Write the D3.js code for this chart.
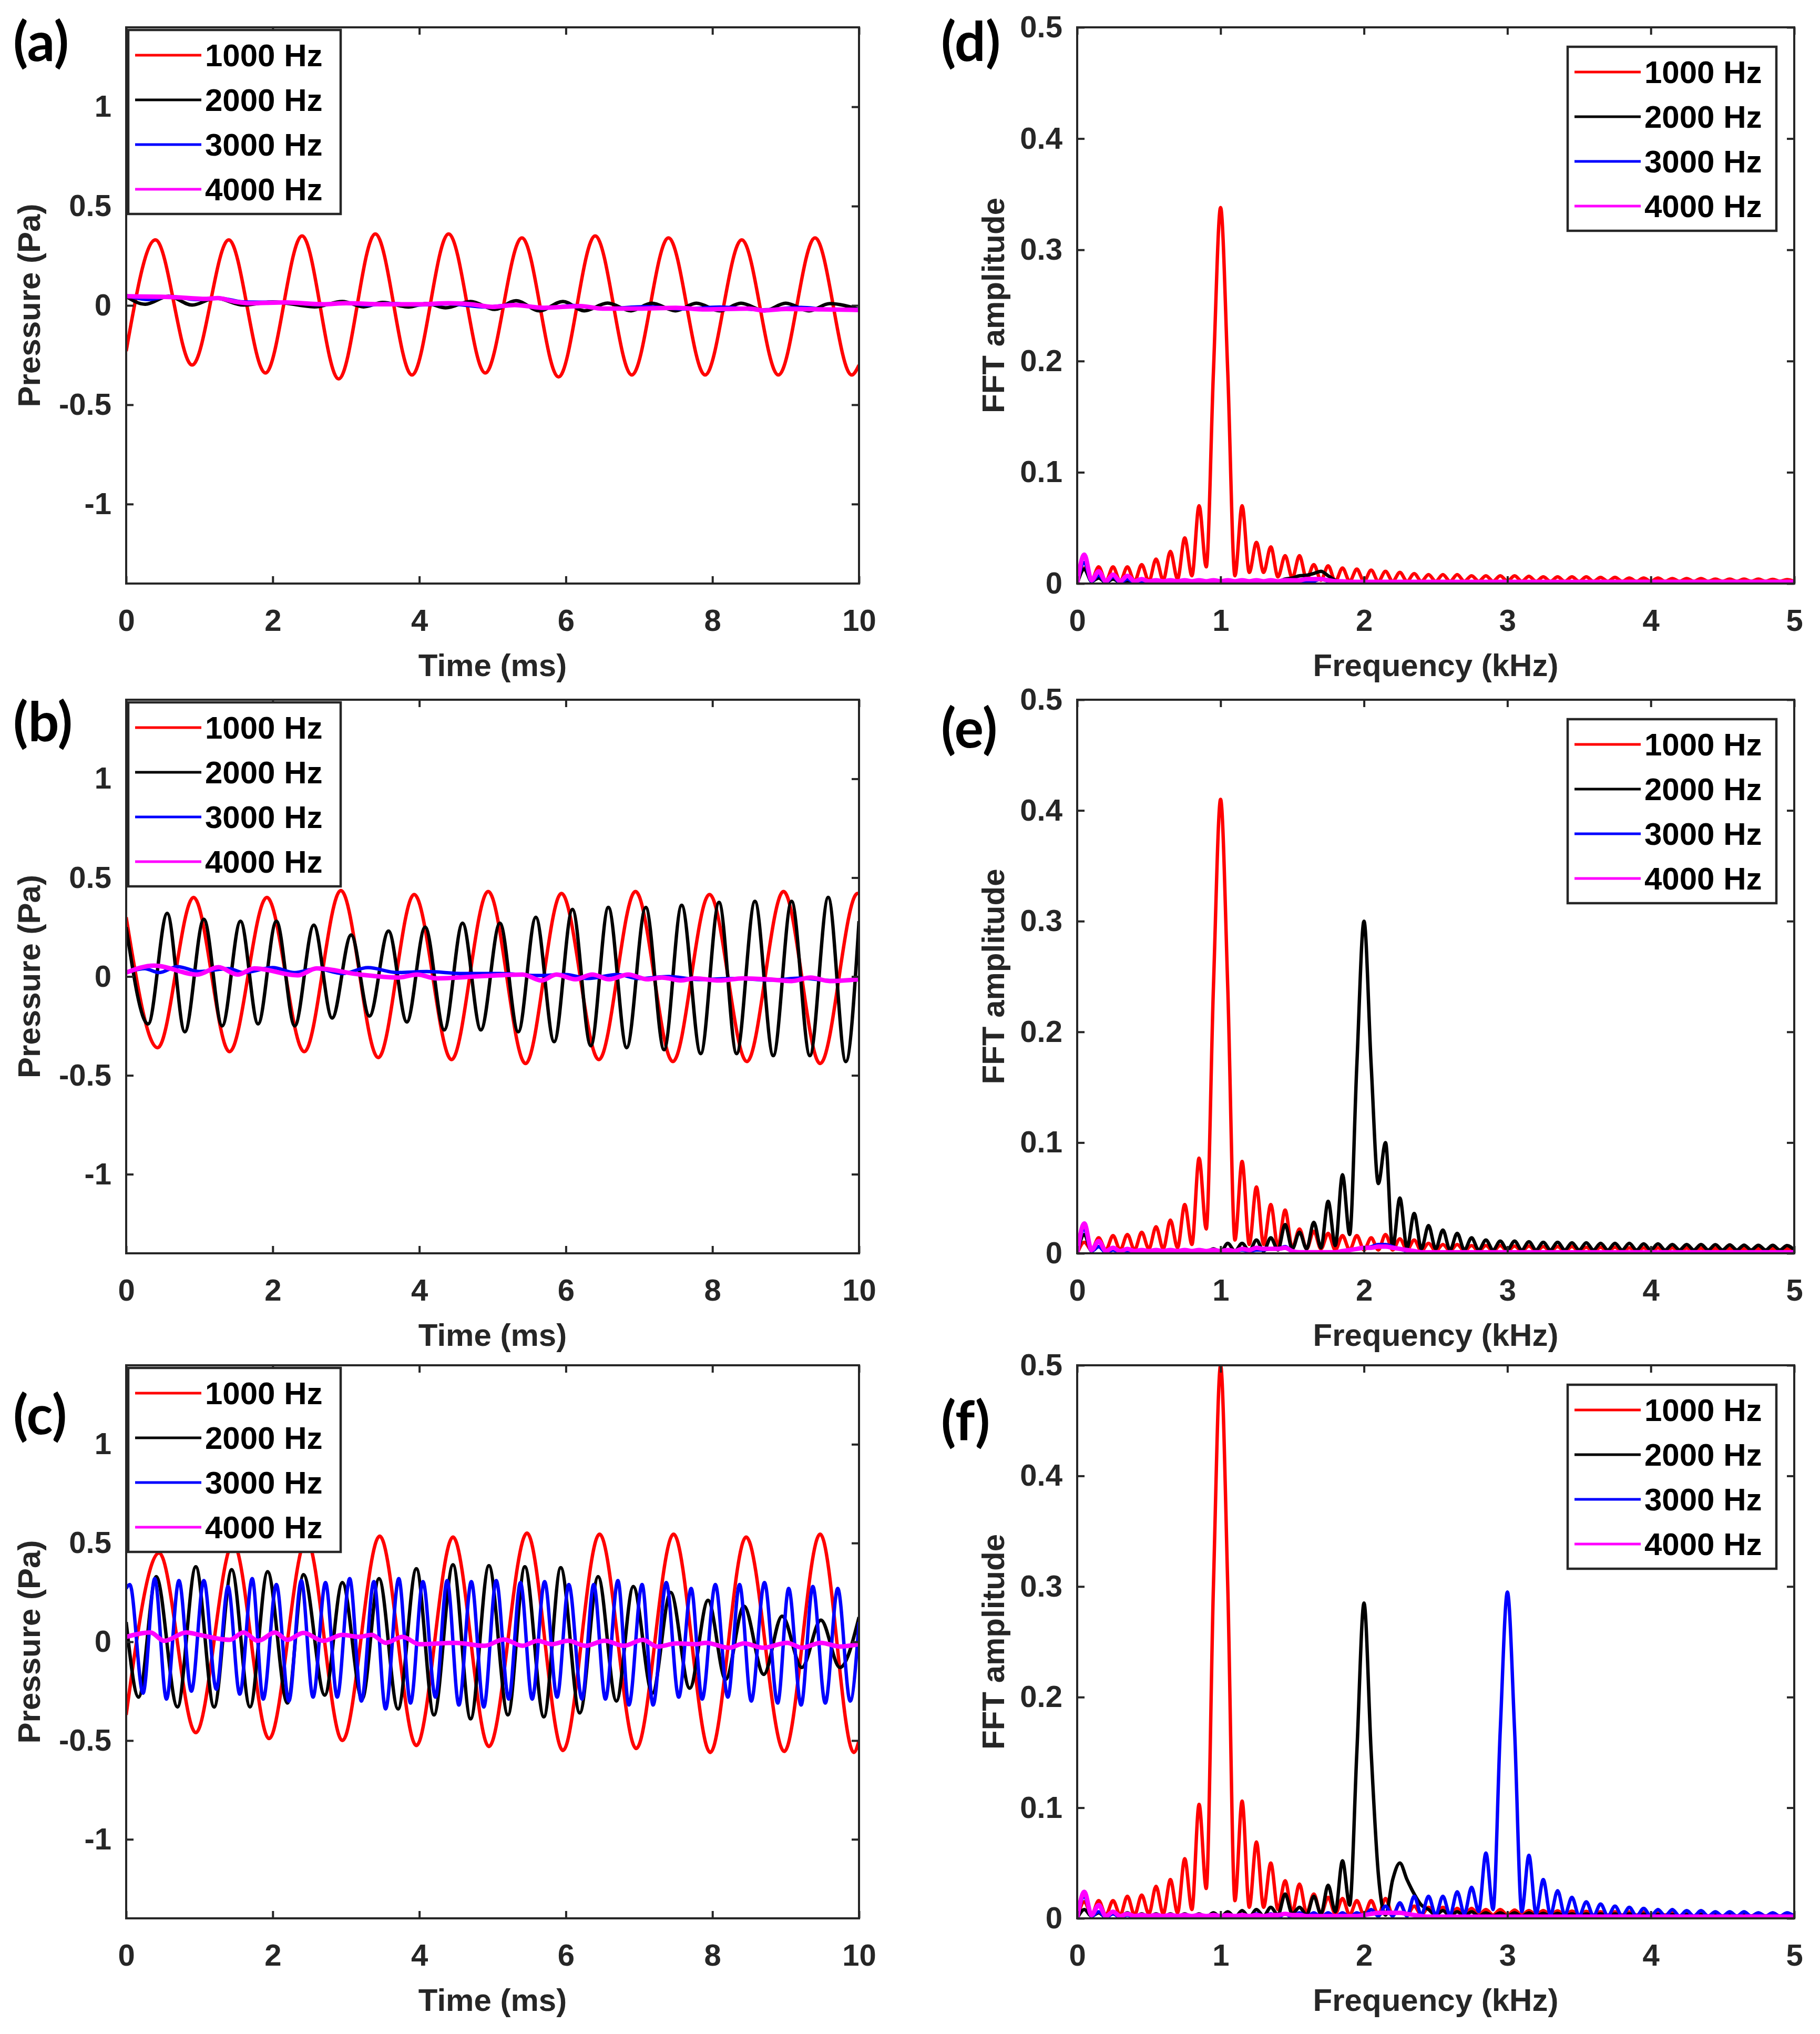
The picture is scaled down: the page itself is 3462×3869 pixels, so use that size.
<!DOCTYPE html>
<html>
<head>
<meta charset="utf-8">
<script src="https://cdn.jsdelivr.net/npm/d3@7/dist/d3.min.js"></script>
<style>
body { margin:0; background:#ffffff; }
svg { display:block; }
</style>
</head>
<body>
<svg id="fig"></svg>
<script>
// legend entries and colours, same order in every panel
var seriesNames = ["1000 Hz","2000 Hz","3000 Hz","4000 Hz"];
var seriesColors = ["#ff0000","#000000","#0000ff","#ff00ff"];

// tick values and labels
var timeTicks = [0,2,4,6,8,10];
var timeTickLabels = ["0","2","4","6","8","10"];
var pressureTicks = [-1,-0.5,0,0.5,1];
var pressureTickLabels = ["-1","-0.5","0","0.5","1"];
var freqTicks = [0,1,2,3,4,5];
var freqTickLabels = ["0","1","2","3","4","5"];
var ampTicks = [0,0.1,0.2,0.3,0.4,0.5];
var ampTickLabels = ["0","0.1","0.2","0.3","0.4","0.5"];

var timeA_1000 = [[0,-0.23],[0.4,0.33],[0.9,-0.30],[1.4,0.33],[1.9,-0.34],[2.4,0.35],[2.9,-0.37],[3.4,0.36],[3.9,-0.35],[4.4,0.36],[4.9,-0.34],[5.4,0.34],[5.9,-0.36],[6.4,0.35],[6.9,-0.35],[7.4,0.34],[7.9,-0.35],[8.4,0.33],[8.9,-0.35],[9.4,0.34],[9.9,-0.35],[10,-0.30]];
var timeA_2000 = [[0,0.045],[0.26,0.006],[0.58,0.046],[0.9,0.002],[1.22,0.037],[1.6,0.002],[2.0,0.018],[2.57,-0.007],[2.95,0.02],[3.24,-0.007],[3.5,0.015],[3.85,-0.008],[4.1,0.01],[4.36,-0.012],[4.7,0.02],[5.03,-0.02],[5.32,0.024],[5.64,-0.027],[5.96,0.02],[6.25,-0.027],[6.57,0.012],[6.89,-0.027],[7.17,0.011],[7.5,-0.027],[7.78,0.011],[8.1,-0.027],[8.39,0.011],[8.71,-0.027],[9.0,0.011],[9.32,-0.027],[9.6,0.009],[10,-0.02]];
var timeA_3000 = [[0,0.05],[0.3,0.03],[0.6,0.045],[0.95,0.03],[1.25,0.038],[1.6,0.018],[2.2,0.015],[2.6,0.004],[3.0,0.012],[3.3,0.002],[3.6,0.01],[4.0,0.002],[4.4,0.008],[4.9,-0.008],[5.3,0.004],[5.7,-0.014],[6.1,0.0],[6.5,-0.016],[7.1,-0.006],[7.6,-0.018],[8.1,-0.008],[8.7,-0.022],[9.2,-0.01],[9.6,-0.02],[10,-0.02]];
var timeA_4000 = [[0,0.046],[0.64,0.042],[1.09,0.033],[1.25,0.037],[1.47,0.02],[1.7,0.011],[2.18,0.015],[2.69,0.006],[3.0,0.011],[3.5,0.006],[4.0,0.006],[4.4,0.011],[4.7,0.006],[5.0,-0.007],[5.3,0.002],[5.7,-0.012],[6.2,-0.003],[6.5,-0.016],[7.0,-0.016],[7.5,-0.012],[7.9,-0.02],[8.5,-0.016],[8.7,-0.025],[9.0,-0.018],[9.5,-0.02],[10,-0.023]];

var timeB_1000 = [[0,0.30],[0.43,-0.36],[0.92,0.40],[1.41,-0.38],[1.92,0.40],[2.43,-0.38],[2.93,0.435],[3.44,-0.41],[3.93,0.415],[4.44,-0.42],[4.94,0.43],[5.45,-0.44],[5.94,0.42],[6.45,-0.42],[6.95,0.43],[7.46,-0.43],[7.96,0.415],[8.47,-0.43],[8.97,0.43],[9.47,-0.44],[9.98,0.42],[10,0.42]];
var timeB_2000 = [[0,0.25],[0.30,-0.24],[0.56,0.32],[0.80,-0.28],[1.06,0.29],[1.31,-0.25],[1.56,0.28],[1.80,-0.24],[2.05,0.28],[2.30,-0.25],[2.56,0.26],[2.81,-0.21],[3.07,0.21],[3.32,-0.20],[3.58,0.23],[3.83,-0.23],[4.08,0.25],[4.34,-0.27],[4.59,0.27],[4.84,-0.27],[5.10,0.27],[5.35,-0.28],[5.59,0.30],[5.84,-0.33],[6.09,0.34],[6.34,-0.35],[6.58,0.35],[6.83,-0.36],[7.09,0.35],[7.34,-0.37],[7.58,0.36],[7.84,-0.39],[8.09,0.375],[8.33,-0.39],[8.58,0.38],[8.83,-0.40],[9.08,0.38],[9.33,-0.40],[9.58,0.40],[9.82,-0.43],[10,0.28]];
var timeB_3000 = [[0,0.02],[0.25,0.04],[0.45,0.02],[0.7,0.05],[1.0,0.025],[1.4,0.04],[1.6,0.02],[2.0,0.045],[2.3,0.02],[2.6,0.04],[2.95,0.015],[3.3,0.045],[3.7,0.02],[4.1,0.025],[4.6,0.015],[5.1,0.015],[5.6,0.005],[6.0,0.01],[6.3,-0.01],[6.7,0.01],[7.0,-0.01],[7.4,0.0],[7.8,-0.015],[8.3,-0.01],[8.8,-0.018],[9.2,-0.008],[9.6,-0.02],[10,-0.015]];
var timeB_4000 = [[0,0.02],[0.38,0.055],[0.97,0.01],[1.26,0.047],[1.52,0.01],[1.75,0.041],[2.34,0.006],[2.6,0.041],[3.19,0.01],[3.71,-0.005],[3.97,0.01],[4.23,-0.009],[4.82,0.001],[5.41,0.01],[5.67,-0.02],[5.87,0.01],[6.13,-0.014],[6.36,0.01],[6.59,-0.014],[6.85,0.01],[7.11,-0.014],[7.31,-0.005],[7.57,-0.02],[7.76,-0.009],[8.09,-0.02],[8.42,-0.009],[8.75,-0.014],[9.08,-0.023],[9.34,-0.005],[9.6,-0.023],[10,-0.014]];

var timeC_1000 = [[0,-0.37],[0.45,0.45],[0.95,-0.46],[1.46,0.50],[1.95,-0.49],[2.46,0.52],[2.95,-0.50],[3.46,0.535],[3.96,-0.525],[4.46,0.53],[4.95,-0.53],[5.47,0.55],[5.96,-0.55],[6.46,0.545],[6.96,-0.54],[7.47,0.545],[7.97,-0.56],[8.46,0.53],[8.98,-0.555],[9.47,0.545],[9.93,-0.56],[10,-0.50]];
var timeC_2000 = [[0,0.10],[0.17,-0.28],[0.41,0.33],[0.70,-0.33],[0.95,0.38],[1.20,-0.33],[1.44,0.365],[1.69,-0.33],[1.93,0.355],[2.20,-0.31],[2.42,0.34],[2.71,-0.27],[2.95,0.30],[3.22,-0.29],[3.45,0.32],[3.71,-0.34],[3.96,0.37],[4.20,-0.37],[4.46,0.39],[4.70,-0.39],[4.95,0.385],[5.21,-0.37],[5.44,0.38],[5.70,-0.38],[5.93,0.375],[6.19,-0.36],[6.44,0.33],[6.69,-0.30],[6.92,0.28],[7.18,-0.26],[7.43,0.25],[7.69,-0.235],[7.94,0.21],[8.18,-0.19],[8.43,0.18],[8.70,-0.165],[8.95,0.13],[9.22,-0.13],[9.48,0.11],[9.74,-0.13],[10,0.125]];
var timeC_3000 = [[0,0.27],[0.05,0.29],[0.23,-0.26],[0.39,0.32],[0.55,-0.29],[0.72,0.31],[0.89,-0.25],[1.06,0.31],[1.23,-0.24],[1.39,0.28],[1.55,-0.265],[1.72,0.32],[1.87,-0.29],[2.05,0.29],[2.22,-0.30],[2.39,0.31],[2.55,-0.28],[2.72,0.30],[2.88,-0.28],[3.05,0.32],[3.21,-0.30],[3.38,0.305],[3.54,-0.34],[3.72,0.32],[3.88,-0.31],[4.05,0.305],[4.22,-0.28],[4.38,0.31],[4.54,-0.32],[4.71,0.305],[4.88,-0.33],[5.05,0.31],[5.22,-0.29],[5.38,0.30],[5.54,-0.29],[5.71,0.305],[5.88,-0.28],[6.04,0.29],[6.22,-0.29],[6.38,0.29],[6.54,-0.29],[6.71,0.31],[6.86,-0.32],[7.04,0.29],[7.19,-0.32],[7.37,0.30],[7.54,-0.28],[7.71,0.27],[7.86,-0.29],[8.04,0.29],[8.21,-0.28],[8.37,0.29],[8.53,-0.30],[8.71,0.30],[8.89,-0.31],[9.04,0.27],[9.21,-0.32],[9.37,0.28],[9.54,-0.31],[9.71,0.27],[9.88,-0.30],[10,0.10]];
var timeC_4000 = [[0,0.025],[0.33,0.047],[0.52,0.005],[0.82,0.047],[1.0,0.035],[1.41,0.01],[1.6,0.047],[1.8,0.005],[2.03,0.047],[2.2,0.01],[2.42,0.045],[2.69,0.005],[2.95,0.035],[3.18,0.025],[3.35,0.035],[3.54,-0.005],[3.77,0.025],[4.0,-0.012],[4.49,-0.005],[4.89,-0.02],[5.15,0.012],[5.41,-0.02],[5.61,0.005],[5.81,-0.012],[6.03,0.005],[6.27,-0.02],[6.53,0.005],[6.79,-0.02],[7.05,0.01],[7.25,-0.024],[7.51,-0.008],[7.78,-0.012],[7.91,-0.005],[8.23,-0.03],[8.43,-0.008],[8.69,-0.03],[9.02,-0.005],[9.22,-0.03],[9.48,-0.005],[9.74,-0.024],[10,-0.012]];

// ---- spectra, amplitude read at every 0.05 kHz
var fftFreq = [0,0.05,0.1,0.15,0.2,0.25,0.3,0.35,0.4,0.45,
  0.5,0.55,0.6,0.65,0.7,0.75,0.8,0.85,0.9,0.95,
  1,1.05,1.1,1.15,1.2,1.25,1.3,1.35,1.4,1.45,
  1.5,1.55,1.6,1.65,1.7,1.75,1.8,1.85,1.9,1.95,
  2,2.05,2.1,2.15,2.2,2.25,2.3,2.35,2.4,2.45,
  2.5,2.55,2.6,2.65,2.7,2.75,2.8,2.85,2.9,2.95,
  3,3.05,3.1,3.15,3.2,3.25,3.3,3.35,3.4,3.45,
  3.5,3.55,3.6,3.65,3.7,3.75,3.8,3.85,3.9,3.95,
  4,4.05,4.1,4.15,4.2,4.25,4.3,4.35,4.4,4.45,
  4.5,4.55,4.6,4.65,4.7,4.75,4.8,4.85,4.9,4.95,
  5];

var fftD_1000 = [0,.014,.003,.015,.002,.015,.002,.015,.002,.017,
  .002,.022,.003,.029,.004,.041,.007,.070,.015,.190,
  .338,.190,.007,.070,.010,.037,.010,.033,.006,.025,
  .005,.025,.004,.017,.003,.016,.002,.014,.002,.013,
  .002,.012,.002,.011,.002,.010,.002,.009,.002,.008,
  .002,.008,.002,.008,.002,.007,.002,.007,.002,.007,
  .002,.007,.002,.0065,.002,.006,.002,.006,.002,.006,
  .002,.006,.002,.0055,.002,.0055,.002,.005,.002,.005,
  .002,.005,.002,.0045,.002,.0045,.002,.0045,.002,.004,
  .002,.004,.002,.004,.002,.004,.002,.0038,.002,.0036,
  .002];
var fftD_2000 = [0,.013,.002,.005,.001,.004,.001,.002,.001,.001,
  .001,.001,.001,.001,.001,.001,.001,.001,.001,.001,
  .001,.001,.001,.001,.002,.003,.002,.002,.002,.004,
  .005,.007,.0075,.009,.011,.007,.003,.001,.001,.001,
  .001,.001,.001,.001,.001,.001,.001,.001,.001,.001,
  .001,.001,.001,.001,.001,.001,.001,.001,.001,.001,
  .001,.001,.001,.001,.001,.001,.001,.001,.001,.001,
  .001,.001,.001,.001,.001,.001,.001,.001,.001,.001,
  .001,.001,.001,.001,.001,.001,.001,.001,.001,.001,
  .001,.001,.001,.001,.001,.001,.001,.001,.001,.001,
  .001];
var fftD_3000 = [0,.019,.002,.0075,.001,.006,.001,.004,.001,.002,
  .001,.001,.001,.001,.001,.001,.001,.001,.001,.001,
  .001,.001,.001,.001,.001,.001,.001,.001,.001,.001,
  .001,.001,.001,.002,.004,.002,.001,.001,.001,.001,
  .001,.001,.001,.001,.001,.001,.001,.001,.001,.001,
  .001,.001,.001,.001,.001,.001,.001,.001,.001,.001,
  .001,.001,.001,.001,.001,.001,.001,.001,.001,.001,
  .001,.001,.001,.001,.001,.001,.001,.001,.001,.001,
  .001,.001,.001,.001,.001,.001,.001,.001,.001,.001,
  .001,.001,.001,.001,.001,.001,.001,.001,.001,.001,
  .001];
var fftD_4000 = [0,.026,.003,.011,.002,.008,.002,.007,.002,.004,
  .002,.003,.002,.003,.002,.003,.002,.003,.002,.003,
  .002,.003,.002,.003,.002,.003,.002,.003,.002,.003,
  .003,.003,.004,.004,.004,.003,.002,.002,.0015,.0015,
  .0015,.0015,.0015,.0015,.0015,.0015,.0015,.0015,.0015,.0015,
  .0015,.0015,.0015,.0015,.0015,.0015,.0015,.0015,.0015,.0015,
  .0015,.0015,.0015,.0015,.0015,.0015,.0015,.0015,.0015,.0015,
  .0015,.0015,.0015,.0015,.0015,.0015,.0015,.0015,.0015,.0015,
  .0015,.0015,.0015,.0015,.0015,.0015,.0015,.0015,.0015,.0015,
  .0015,.0015,.0015,.0015,.0015,.0015,.0015,.0015,.0015,.0015,
  .0015];

var fftE_1000 = [0,.010,.003,.014,.003,.016,.003,.017,.003,.019,
  .004,.024,.004,.030,.005,.044,.008,.086,.022,.240,
  .410,.240,.012,.083,.008,.060,.008,.044,.006,.039,
  .005,.022,.004,.020,.004,.018,.003,.016,.003,.016,
  .003,.014,.003,.017,.003,.013,.003,.012,.002,.009,
  .002,.008,.002,.008,.002,.007,.002,.007,.002,.007,
  .002,.0065,.002,.0065,.002,.006,.002,.006,.002,.006,
  .002,.0055,.002,.0055,.002,.0055,.002,.005,.002,.005,
  .002,.005,.002,.005,.002,.0048,.002,.0046,.002,.0045,
  .002,.0045,.002,.0044,.002,.0043,.002,.0042,.002,.004,
  .002];
var fftE_2000 = [0,.017,.002,.006,.001,.004,.001,.003,.001,.003,
  .001,.003,.001,.003,.001,.003,.001,.003,.001,.004,
  .001,.009,.002,.009,.002,.012,.002,.014,.003,.026,
  .004,.019,.004,.028,.005,.047,.007,.071,.017,.170,
  .300,.170,.063,.100,.005,.050,.005,.036,.004,.025,
  .004,.021,.003,.018,.003,.014,.003,.012,.003,.011,
  .003,.011,.003,.0105,.003,.010,.003,.010,.003,.0095,
  .003,.0095,.003,.009,.003,.009,.003,.009,.003,.0085,
  .003,.0085,.003,.008,.003,.008,.003,.008,.003,.0078,
  .003,.0076,.003,.0074,.003,.0073,.003,.0072,.003,.007,
  .003];
var fftE_3000 = [0,.022,.002,.006,.001,.003,.001,.002,.001,.002,
  .001,.002,.001,.002,.001,.002,.001,.002,.001,.002,
  .001,.002,.002,.003,.002,.003,.003,.004,.004,.006,
  .002,.001,.001,.001,.001,.001,.001,.002,.003,.004,
  .005,.006,.008,.008,.006,.004,.002,.001,.001,.001,
  .001,.001,.001,.001,.001,.001,.001,.001,.001,.001,
  .001,.001,.001,.001,.001,.001,.001,.001,.001,.001,
  .001,.001,.001,.001,.001,.001,.001,.001,.001,.001,
  .001,.001,.001,.001,.001,.001,.001,.001,.001,.001,
  .001,.001,.001,.001,.001,.001,.001,.001,.001,.001,
  .001];
var fftE_4000 = [0,.027,.003,.011,.002,.005,.002,.004,.002,.003,
  .002,.003,.002,.003,.002,.003,.002,.003,.002,.003,
  .002,.003,.002,.004,.003,.005,.004,.004,.004,.005,
  .002,.001,.001,.001,.001,.001,.001,.002,.003,.004,
  .005,.005,.006,.006,.005,.004,.003,.002,.001,.001,
  .001,.001,.001,.001,.001,.001,.001,.001,.001,.001,
  .001,.001,.001,.001,.001,.001,.001,.001,.001,.001,
  .001,.001,.001,.001,.001,.001,.001,.001,.001,.001,
  .001,.001,.001,.001,.001,.001,.001,.001,.001,.001,
  .001,.001,.001,.001,.001,.001,.001,.001,.001,.001,
  .001];

var fftF_1000 = [0,.015,.003,.016,.003,.016,.003,.020,.003,.021,
  .004,.029,.004,.035,.005,.054,.008,.103,.027,.300,
  .500,.300,.016,.106,.010,.069,.010,.050,.008,.034,
  .006,.031,.005,.022,.004,.019,.004,.018,.003,.016,
  .003,.016,.003,.018,.003,.013,.003,.011,.003,.010,
  .003,.010,.003,.009,.003,.009,.003,.008,.003,.008,
  .003,.0075,.003,.007,.003,.007,.003,.0068,.003,.0065,
  .003,.0063,.003,.006,.003,.006,.003,.0058,.003,.0056,
  .003,.0055,.003,.0054,.002,.0053,.002,.0052,.002,.005,
  .002,.005,.002,.005,.002,.0048,.002,.0047,.002,.0046,
  .002];
var fftF_2000 = [0,.008,.002,.005,.001,.005,.001,.005,.001,.004,
  .001,.004,.001,.004,.001,.004,.001,.004,.001,.005,
  .001,.006,.001,.007,.001,.008,.002,.010,.003,.022,
  .004,.010,.003,.020,.004,.030,.006,.052,.012,.150,
  .285,.150,.040,.003,.035,.050,.035,.022,.012,.008,
  .003,.007,.002,.006,.002,.006,.002,.005,.002,.005,
  .002,.005,.002,.005,.002,.0045,.002,.0045,.002,.004,
  .002,.004,.002,.004,.002,.004,.002,.004,.002,.0038,
  .002,.0036,.002,.0035,.002,.0035,.002,.0034,.002,.0033,
  .002,.0032,.002,.0032,.002,.0031,.002,.003,.002,.003,
  .002];
var fftF_3000 = [0,.020,.002,.006,.001,.004,.001,.003,.001,.002,
  .001,.002,.001,.002,.001,.002,.001,.002,.001,.002,
  .001,.002,.001,.003,.001,.004,.001,.004,.001,.004,
  .001,.005,.001,.005,.001,.005,.001,.005,.001,.005,
  .002,.008,.002,.011,.002,.014,.002,.020,.003,.020,
  .003,.020,.003,.024,.004,.028,.006,.059,.008,.170,
  .295,.170,.006,.057,.004,.035,.003,.025,.003,.019,
  .002,.015,.002,.013,.002,.011,.002,.010,.002,.009,
  .002,.008,.002,.008,.002,.007,.002,.007,.002,.006,
  .002,.006,.002,.006,.002,.005,.002,.005,.002,.005,
  .002];
var fftF_4000 = [0,.024,.003,.012,.002,.006,.002,.004,.002,.003,
  .002,.003,.002,.003,.002,.003,.002,.003,.002,.003,
  .002,.003,.002,.003,.002,.003,.002,.003,.003,.004,
  .003,.003,.002,.002,.002,.002,.002,.002,.002,.002,
  .003,.004,.005,.005,.005,.005,.004,.003,.002,.0015,
  .0015,.0015,.0015,.0015,.0015,.0015,.0015,.0015,.0015,.0015,
  .0015,.0015,.0015,.0015,.0015,.0015,.0015,.0015,.0015,.0015,
  .0015,.0015,.0015,.0015,.0015,.0015,.0015,.0015,.0015,.0015,
  .0015,.0015,.0015,.0015,.0015,.0015,.0015,.0015,.0015,.0015,
  .0015,.0015,.0015,.0015,.0015,.0015,.0015,.0015,.0015,.0015,
  .0015];

// turns an amplitude list into [freq, amp] points on the shared frequency grid
var spectrum = function(amps)
{
    return fftFreq.map(function(f, i) { return [f, amps[i]]; });
}

var screen = {width:3462, height:3869};
var columns = [{left:240, right:1634}, {left:2049, right:3413}];
var rowsBox = [{top:52, bottom:1110}, {top:1331, bottom:2384}, {top:2597, bottom:3649}];
var fontFamily = '"Liberation Sans", Arial, Helvetica, sans-serif';
var inkColor = "#262626";

var panels = [
    {tag:"(a)", kind:"time", col:0, row:0, tagY:116, series:[timeA_1000,timeA_2000,timeA_3000,timeA_4000]},
    {tag:"(b)", kind:"time", col:0, row:1, tagY:1410, series:[timeB_1000,timeB_2000,timeB_3000,timeB_4000]},
    {tag:"(c)", kind:"time", col:0, row:2, tagY:2728, series:[timeC_1000,timeC_2000,timeC_3000,timeC_4000]},
    {tag:"(d)", kind:"fft", col:1, row:0, tagY:116, series:[fftD_1000,fftD_2000,fftD_3000,fftD_4000].map(spectrum)},
    {tag:"(e)", kind:"fft", col:1, row:1, tagY:1422, series:[fftE_1000,fftE_2000,fftE_3000,fftE_4000].map(spectrum)},
    {tag:"(f)", kind:"fft", col:1, row:2, tagY:2740, series:[fftF_1000,fftF_2000,fftF_3000,fftF_4000].map(spectrum)}
];

var svg = d3.select("#fig")
    .attr("width", screen.width)
    .attr("height", screen.height)
    .attr("viewBox", "0 0 " + screen.width + " " + screen.height);

svg.append("rect")
    .attr("width", screen.width)
    .attr("height", screen.height)
    .attr("fill", "#ffffff");

// styles a d3 axis group the MATLAB way: inward ticks, bold grey labels
var styleAxis = function(g)
{
    g.attr("color", inkColor)
        .attr("font-family", fontFamily)
        .attr("font-size", 58)
        .attr("font-weight", "bold");
    g.select(".domain").remove();
    g.selectAll(".tick line").attr("stroke-width", 4);
}

var drawPanel = function(p, idx)
{
    var box = columns[p.col];
    var rb = rowsBox[p.row];
    var w = box.right - box.left;
    var h = rb.bottom - rb.top;
    var isTime = p.kind == "time";

    var xScale = d3.scaleLinear()
        .domain(isTime ? [0, 10] : [0, 5])
        .range([0, w]);
    var yScale = d3.scaleLinear()
        .domain(isTime ? [-1.4, 1.4] : [0, 0.5])
        .range([h, 0]);

    var g = svg.append("g")
        .attr("transform", "translate(" + box.left + "," + rb.top + ")");

    g.append("clipPath")
        .attr("id", "clip" + idx)
        .append("rect")
        .attr("width", w)
        .attr("height", h);

    var line = d3.line()
        .x(function(d) { return xScale(d[0]); })
        .y(function(d) { return yScale(d[1]); })
        .curve(d3.curveMonotoneX);

    g.append("g")
        .attr("clip-path", "url(#clip" + idx + ")")
        .selectAll("path")
        .data(p.series)
        .enter()
        .append("path")
        .attr("d", line)
        .attr("fill", "none")
        .attr("stroke", function(d, i) { return seriesColors[i]; })
        .attr("stroke-width", function(d, i) { return i == 3 ? 8.5 : 6.5; })
        .attr("stroke-linejoin", "round");

    var xTicks = isTime ? timeTicks : freqTicks;
    var xLabels = isTime ? timeTickLabels : freqTickLabels;
    var yTicks = isTime ? pressureTicks : ampTicks;
    var yLabels = isTime ? pressureTickLabels : ampTickLabels;

    g.append("g")
        .attr("transform", "translate(0," + h + ")")
        .call(d3.axisBottom(xScale).tickValues(xTicks).tickSize(-14).tickPadding(49)
            .tickFormat(function(d, i) { return xLabels[i]; }))
        .call(styleAxis);
    g.append("g")
        .call(d3.axisTop(xScale).tickValues(xTicks).tickSize(-14).tickFormat(""))
        .call(styleAxis);
    g.append("g")
        .call(d3.axisLeft(yScale).tickValues(yTicks).tickSize(-14).tickPadding(28)
            .tickFormat(function(d, i) { return yLabels[i]; }))
        .call(styleAxis);
    g.append("g")
        .attr("transform", "translate(" + w + ",0)")
        .call(d3.axisRight(yScale).tickValues(yTicks).tickSize(-14).tickFormat(""))
        .call(styleAxis);

    // axes box
    g.append("rect")
        .attr("width", w)
        .attr("height", h)
        .attr("fill", "none")
        .attr("stroke", inkColor)
        .attr("stroke-width", 4);

    // axis titles
    g.append("text")
        .attr("x", w / 2)
        .attr("y", h + 176)
        .attr("text-anchor", "middle")
        .attr("font-family", fontFamily)
        .attr("font-size", 60)
        .attr("font-weight", "bold")
        .attr("fill", inkColor)
        .text(isTime ? "Time (ms)" : "Frequency (kHz)");
    g.append("text")
        .attr("transform", "translate(" + (isTime ? -164 : -139) + "," + (h / 2) + ") rotate(-90)")
        .attr("text-anchor", "middle")
        .attr("font-family", fontFamily)
        .attr("font-size", 60)
        .attr("font-weight", "bold")
        .attr("fill", inkColor)
        .text(isTime ? "Pressure (Pa)" : "FFT amplitude");

    // legend, top left for time panels, top right for spectra
    var legW = isTime ? 404 : 397;
    var legH = 350;
    var legX = isTime ? 4 : w - 34 - legW;
    var legY = isTime ? 5 : 37;
    var leg = g.append("g")
        .attr("transform", "translate(" + legX + "," + legY + ")");
    leg.append("rect")
        .attr("width", legW)
        .attr("height", legH)
        .attr("fill", "#ffffff")
        .attr("stroke", inkColor)
        .attr("stroke-width", 4.5);
    var items = leg.selectAll(".item")
        .data(seriesNames)
        .enter()
        .append("g")
        .attr("class", "item")
        .attr("transform", function(d, i) { return "translate(0," + (48 + i * 85) + ")"; });
    items.append("line")
        .attr("x1", 13)
        .attr("x2", 139)
        .attr("stroke", function(d, i) { return seriesColors[i]; })
        .attr("stroke-width", 5);
    items.append("text")
        .attr("x", 146)
        .attr("dy", "0.35em")
        .attr("font-family", fontFamily)
        .attr("font-size", 60)
        .attr("font-weight", "bold")
        .attr("fill", "#000000")
        .text(function(d) { return d; });

    // panel tag
    svg.append("text")
        .attr("x", p.col == 0 ? 25 : 1790)
        .attr("y", p.tagY)
        .attr("font-family", 'Lato, "Open Sans", sans-serif')
        .attr("font-size", 104)
        .attr("font-weight", "bold")
        .attr("fill", "#000000")
        .text(p.tag);
}

panels.forEach(drawPanel);
</script>
</body>
</html>
